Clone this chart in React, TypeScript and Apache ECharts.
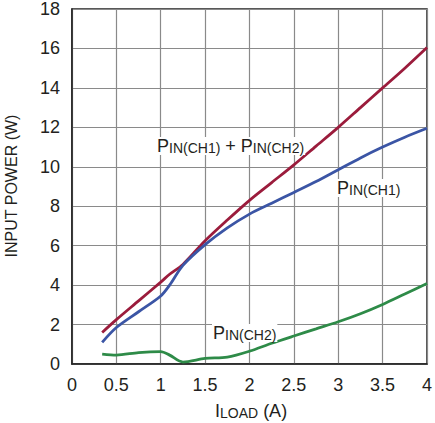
import React, { useEffect, useRef } from "react";
import * as echarts from "echarts";

const loadA = [0.34, 0.5, 0.75, 1, 1.1, 1.25, 1.5, 1.75, 2, 2.25, 2.5, 2.75, 3, 3.25, 3.5, 3.75, 4];
const pinTotal = [1.6, 2.25, 3.2, 4.15, 4.55, 5.05, 6.25, 7.3, 8.3, 9.2, 10.1, 11.05, 12.0, 13.0, 14.0, 15.0, 16.05];
const pinCh1 = [1.1, 1.85, 2.65, 3.45, 4.0, 5.0, 6.05, 6.9, 7.6, 8.15, 8.7, 9.25, 9.85, 10.45, 11.0, 11.5, 11.95];
const pinCh2 = [0.5, 0.45, 0.58, 0.63, 0.45, 0.1, 0.28, 0.35, 0.65, 1.05, 1.42, 1.78, 2.14, 2.55, 3.02, 3.55, 4.08];

const FONT = "'Liberation Sans', Arial, sans-serif";
const TXT = "#231f20";

const pair = (ys: number[]) => loadA.map((x, i) => [x, ys[i]]);

export default function App() {
  const ref = useRef<HTMLDivElement>(null);
  useEffect(() => {
    if (!ref.current) return;
    const chart = echarts.init(ref.current, undefined, { renderer: "svg" });
    const rich = {
      p: { fontSize: 18, fontFamily: FONT, fill: TXT, verticalAlign: "top", lineHeight: 18 },
      s: { fontSize: 14, fontFamily: FONT, fill: TXT, verticalAlign: "bottom", lineHeight: 14, padding: [8, 0, 0, 0] },
    };
    const label = (x: number, y: number, text: string) => ({
      type: "text",
      left: x,
      top: y,
      z: 100,
      style: { text, rich, backgroundColor: "#fff", padding: [0, 1, 0, 1] },
    });
    chart.setOption({
      animation: false,
      backgroundColor: "#fff",
      grid: {
        left: 72,
        right: 7,
        top: 8,
        bottom: 59,
        show: true,
        borderColor: "#222",
        borderWidth: 1.5,
      },
      xAxis: {
        type: "value",
        min: 0,
        max: 4,
        interval: 0.5,
        axisLine: { show: true, lineStyle: { color: "#222", width: 1.5 } },
        axisTick: { show: false },
        axisLabel: { fontSize: 18, fontFamily: FONT, color: TXT, margin: 12 },
        splitLine: { show: true, lineStyle: { color: "#8a8a8a", width: 1.2 } },
      },
      yAxis: {
        type: "value",
        min: 0,
        max: 18,
        interval: 2,
        axisLine: { show: true, lineStyle: { color: "#222", width: 1.5 } },
        axisTick: { show: false },
        axisLabel: { fontSize: 18, fontFamily: FONT, color: TXT, margin: 12 },
        splitLine: { show: true, lineStyle: { color: "#8a8a8a", width: 1.2 } },
      },
      series: [
        {
          type: "line",
          name: "PIN(CH1) + PIN(CH2)",
          data: pair(pinTotal),
          smooth: 0.3,
          showSymbol: false,
          lineStyle: { color: "#9b1c3c", width: 2.8 },
        },
        {
          type: "line",
          name: "PIN(CH1)",
          data: pair(pinCh1),
          smooth: 0.3,
          showSymbol: false,
          lineStyle: { color: "#3b55a5", width: 2.8 },
        },
        {
          type: "line",
          name: "PIN(CH2)",
          data: pair(pinCh2),
          smooth: 0.3,
          showSymbol: false,
          lineStyle: { color: "#2e8b48", width: 2.8 },
        },
      ],
      graphic: [
        label(156, 133, "{p|P}{s|IN(CH1)}{p| + P}{s|IN(CH2)}"),
        label(336, 175, "{p|P}{s|IN(CH1)}"),
        label(212, 320, "{p|P}{s|IN(CH2)}"),
        {
          type: "text",
          left: 215,
          top: 398,
          style: {
            text: "{p|I}{s|LOAD}{p| (A)}",
            rich,
          },
        },
        {
          type: "text",
          x: 11,
          y: 186,
          rotation: Math.PI / 2,
          style: {
            text: "INPUT POWER (W)",
            fontSize: 16,
            fontFamily: FONT,
            fill: TXT,
            align: "center",
            verticalAlign: "middle",
          },
        },
      ],
    });
    return () => chart.dispose();
  }, []);
  return (
    <div
      ref={ref}
      style={{ position: "fixed", left: 0, top: 0, width: 435, height: 423 }}
    />
  );
}
